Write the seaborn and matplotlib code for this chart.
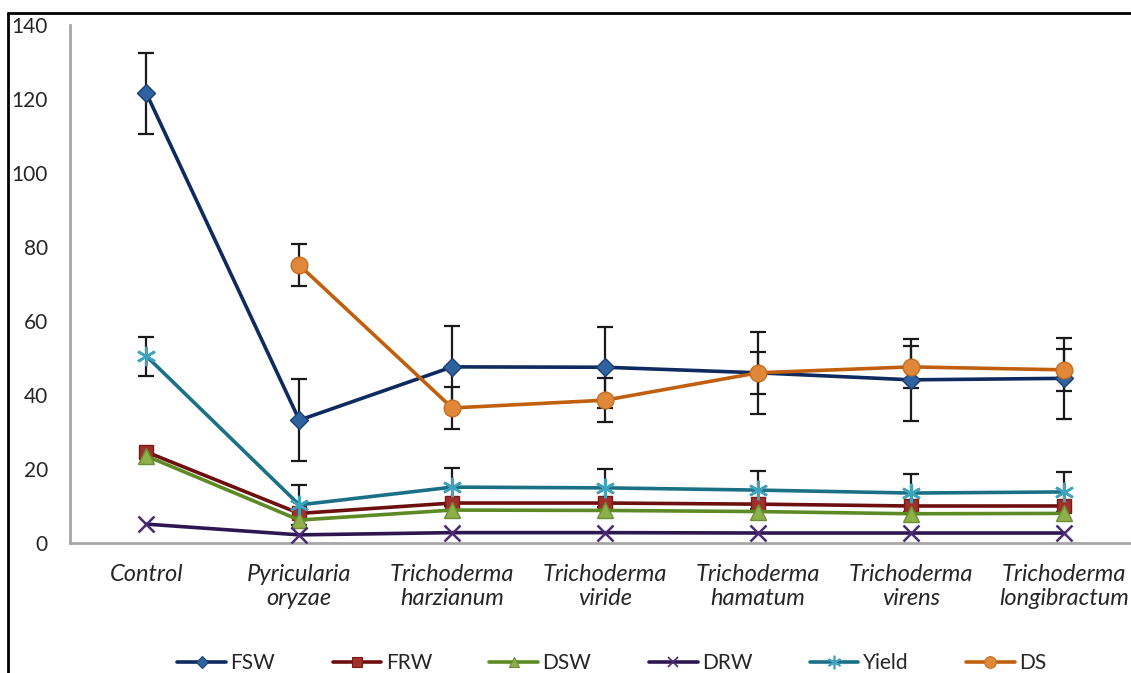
import numpy as np
import pandas as pd
import matplotlib
matplotlib.use('Agg')
import matplotlib.pyplot as plt
import seaborn as sns
from matplotlib.lines import Line2D

# =====================================
# Data
# =====================================
categories = [
    'Control',
    'Pyricularia\noryzae',
    'Trichoderma\nharzianum',
    'Trichoderma\nviride',
    'Trichoderma\nhamatum',
    'Trichoderma\nvirens',
    'Trichoderma\nlongibractum',
]

fsw = [121.5, 33.2, 47.6, 47.5, 46.0, 44.1, 44.5]
fsw_err = [11.0, 11.0, 11.0, 11.0, 11.0, 11.0, 11.0]

frw = [24.6, 8.0, 10.8, 10.8, 10.5, 10.0, 10.0]
dsw = [23.5, 6.2, 8.9, 8.8, 8.5, 7.9, 8.0]
drw = [5.1, 2.2, 2.8, 2.8, 2.7, 2.7, 2.7]

yield_ = [50.5, 10.3, 15.1, 14.9, 14.3, 13.5, 13.8]
yield_err = [5.3, 5.4, 5.2, 5.1, 5.2, 5.2, 5.5]

ds = [np.nan, 75.1, 36.5, 38.6, 46.0, 47.6, 46.8]
ds_err = [np.nan, 5.7, 5.7, 6.0, 5.7, 5.6, 5.6]

# =====================================
# Style
# =====================================
sns.set_theme(style='white')
plt.rcParams['font.family'] = ['Lato', 'DejaVu Sans']

asterisk = (6, 2, 0)

series = [
    # name, values, errors, line colour, marker, marker fill, marker edge, size
    ('FSW', fsw, fsw_err, '#0E2A5E', 'D', '#2F63A0', '#1B3F73', 9),
    ('FRW', frw, None, '#6E0F0F', 's', '#A0302B', '#7A1A17', 10),
    ('DSW', dsw, None, '#5D8A24', '^', '#8DB04A', '#6B8F32', 11),
    ('DRW', drw, None, '#2E1650', 'x', '#4A2A75', '#4A2A75', 11),
    ('Yield', yield_, yield_err, '#1A7186', asterisk, '#4BACC6', '#3FA3BD', 14),
    ('DS', ds, ds_err, '#C0600F', 'o', '#E0883A', '#C56E22', 12),
]

x_pos = np.arange(len(categories))

fig = plt.figure(figsize=(11.31, 6.73), dpi=100)
ax = fig.add_axes([70 / 1131, 1 - 543 / 673, 1 - 70 / 1131, (543 - 25) / 673])

# error bars first, so the markers sit on top
for name, vals, errs, lc, mk, mf, me, ms in series:
    if errs is None:
        continue
    ax.errorbar(x_pos, vals, yerr=errs, fmt='none', ecolor='#1a1a1a',
                elinewidth=1.6, capsize=6, capthick=1.6, zorder=2)

handles = []
for name, vals, errs, lc, mk, mf, me, ms in series:
    df = pd.DataFrame({'x': x_pos, 'y': vals}).dropna()
    thin = mk in ('x', asterisk)
    sns.lineplot(data=df, x='x', y='y', ax=ax, color=lc, linewidth=2.6,
                 marker=mk, markersize=ms, markerfacecolor=mf,
                 markeredgecolor=me, markeredgewidth=1.8 if thin else 1,
                 sort=False, zorder=3)
    handles.append(Line2D([0], [0], color=lc, linewidth=2.6, marker=mk,
                          markersize=ms * 0.7, markerfacecolor=mf,
                          markeredgecolor=me,
                          markeredgewidth=1.2 if thin else 0.8, label=name))

ax.set_xlim(-0.5, 6.44)
ax.set_ylim(0, 140)
ax.set_yticks(np.arange(0, 141, 20))
ax.set_xticks(x_pos)
ax.set_xticklabels(categories, fontstyle='italic', fontsize=17, linespacing=1.2)
ax.tick_params(axis='y', labelsize=15, pad=16, length=0)
ax.tick_params(axis='x', pad=15, length=0)
ax.set_xlabel('')
ax.set_ylabel('')

for side in ['top', 'right']:
    ax.spines[side].set_visible(False)
for side in ['left', 'bottom']:
    ax.spines[side].set_color('#A6A6A6')
    ax.spines[side].set_linewidth(2)
ax.grid(False)

fig.legend(handles=handles, loc='center left',
           bbox_to_anchor=(169 / 1131, 1 - 663 / 673),
           ncol=6, frameon=False, fontsize=15, handlelength=2.35,
           columnspacing=2.75, handletextpad=0.2, borderaxespad=0)

# outer frame as in the original figure
fig.add_artist(Line2D([8 / 1131, 1], [1 - 13 / 673, 1 - 13 / 673],
                      transform=fig.transFigure, color='black', linewidth=2))
fig.add_artist(Line2D([8 / 1131, 8 / 1131], [0, 1 - 13 / 673],
                      transform=fig.transFigure, color='black', linewidth=2))

fig.savefig('out.png', dpi=100)
